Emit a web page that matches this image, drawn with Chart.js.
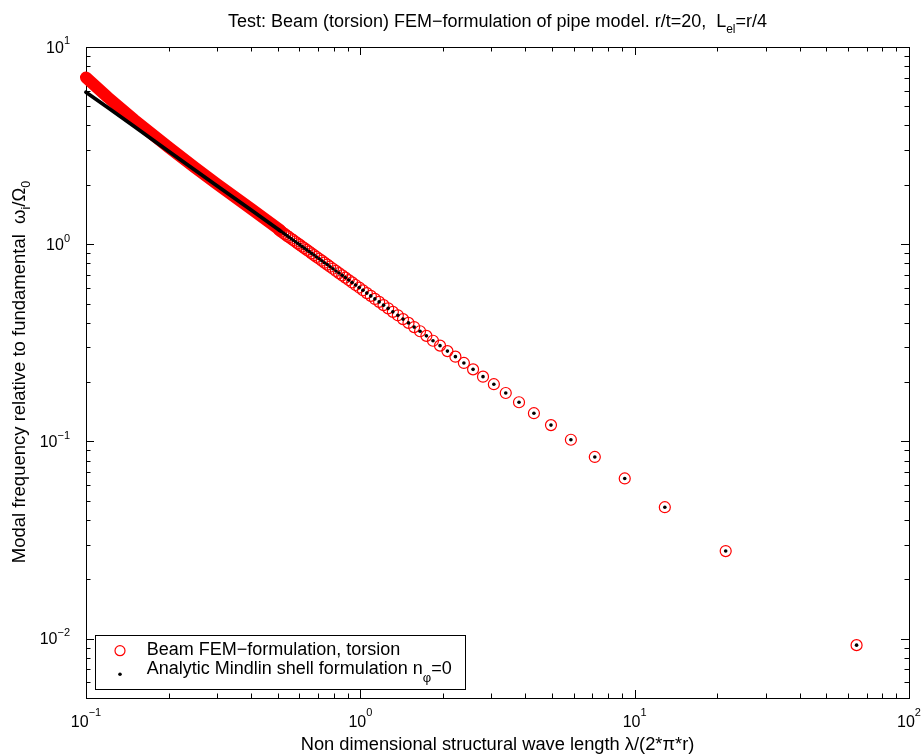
<!DOCTYPE html>
<html>
<head>
<meta charset="utf-8">
<title>Beam torsion FEM vs Mindlin shell</title>
<script src="https://cdn.jsdelivr.net/npm/chart.js@4.4.0/dist/chart.umd.min.js"></script>
<style>
    html, body { margin: 0; padding: 0; background: #fff; }
    #wrap { width: 924px; height: 754px; }
</style>
</head>
<body>
<div id="wrap"><canvas id="modes" width="924" height="754"></canvas></div>
<script>
// modes that show up as separate markers (x = lambda/(2*pi*r), y = omega_i/Omega_0)
const waveLength = [64.4, 21.47, 12.88, 9.20, 7.156, 5.855, 4.954, 4.293, 3.788, 3.389,
    3.067, 2.800, 2.576, 2.385, 2.221, 2.077, 1.952, 1.840, 1.741, 1.651,
    1.571, 1.498, 1.431, 1.370, 1.314, 1.263, 1.215, 1.171, 1.130, 1.092,
    1.056, 1.022, 0.991, 0.961, 0.933, 0.907, 0.882, 0.859, 0.836, 0.815,
    0.795, 0.776, 0.758, 0.740, 0.724, 0.708, 0.692, 0.678, 0.664, 0.651,
    0.638, 0.625, 0.613, 0.602, 0.591, 0.580, 0.570, 0.560, 0.550, 0.541,
    0.532, 0.524, 0.515, 0.507];
const modalFreq = [0.00927, 0.0278, 0.0464, 0.0649, 0.0834, 0.102, 0.121, 0.139, 0.158, 0.176,
    0.195, 0.213, 0.232, 0.250, 0.269, 0.287, 0.306, 0.324, 0.343, 0.362,
    0.380, 0.399, 0.417, 0.436, 0.454, 0.473, 0.491, 0.510, 0.528, 0.547,
    0.565, 0.584, 0.603, 0.621, 0.640, 0.658, 0.677, 0.695, 0.714, 0.732,
    0.751, 0.769, 0.788, 0.806, 0.825, 0.844, 0.862, 0.881, 0.899, 0.918,
    0.936, 0.955, 0.973, 0.992, 1.010, 1.029, 1.048, 1.066, 1.085, 1.103,
    1.122, 1.140, 1.159, 1.177];

// short wave lengths: markers overlap into a solid band, read along its centre
const bandWave        = [0.1, 0.12, 0.15, 0.2, 0.25, 0.3, 0.4, 0.51];
const beamBandFreq    = [7.0, 5.56, 4.27, 3.10, 2.44, 2.02, 1.51, 1.18];
const mindlinBandFreq = [5.90, 4.93, 3.95, 2.96, 2.37, 1.98, 1.49, 1.17];

// axis decades and the exponents printed on them
const xDecades = [0.1, 1, 10, 100];
const xTickExp = ["\u22121", "0", "1", "2"];
const yDecades = [0.01, 0.1, 1, 10];
const yTickExp = ["\u22122", "\u22121", "0", "1"];

const FONT = '"Liberation Sans", Arial, Helvetica, sans-serif';
const RED = "#ff0000";

const pts = (xs, ys) => xs.map((v, i) => ({ x: v, y: ys[i] }));

// text with sub/superscripts: parts = [[text, size, dy], ...]
function richWidth(ctx, parts) {
    let w = 0;
    parts.forEach(([t, s]) => { ctx.font = s + "px " + FONT; w += ctx.measureText(t).width; });
    return w;
}
function drawRich(ctx, parts, x, y, align) {
    const w = richWidth(ctx, parts);
    let cx = align === "center" ? x - w / 2 : align === "right" ? x - w : x;
    ctx.textAlign = "left";
    ctx.textBaseline = "alphabetic";
    parts.forEach(([t, s, dy]) => {
        ctx.font = s + "px " + FONT;
        ctx.fillText(t, cx, y + dy);
        cx += ctx.measureText(t).width;
    });
}

function minorTicks(lo, hi) {
    const out = [];
    for (let d = Math.floor(Math.log10(lo)); d <= Math.ceil(Math.log10(hi)); d++) {
        for (let m = 1; m <= 9; m++) {
            const v = m * Math.pow(10, d);
            if (v >= lo * 0.999 && v <= hi * 1.001) out.push({ v, major: m === 1 });
        }
    }
    return out;
}

const matlabFrame = {
    id: "matlabFrame",
    beforeDatasetsDraw(chart) {
        const { ctx, chartArea: a, scales: { x, y } } = chart;
        ctx.save();
        ctx.strokeStyle = "#000";
        ctx.lineWidth = 1;
        ctx.strokeRect(a.left + 0.5, a.top + 0.5, a.right - a.left, a.bottom - a.top);
        ctx.beginPath();
        minorTicks(x.min, x.max).forEach(t => {
            const px = Math.round(x.getPixelForValue(t.v)) + 0.5;
            const len = t.major ? 8 : 4.5;
            ctx.moveTo(px, a.bottom); ctx.lineTo(px, a.bottom - len);
            ctx.moveTo(px, a.top);    ctx.lineTo(px, a.top + len);
        });
        minorTicks(y.min, y.max).forEach(t => {
            const py = Math.round(y.getPixelForValue(t.v)) + 0.5;
            const len = t.major ? 8 : 4.5;
            ctx.moveTo(a.left, py);  ctx.lineTo(a.left + len, py);
            ctx.moveTo(a.right, py); ctx.lineTo(a.right - len, py);
        });
        ctx.stroke();
        ctx.restore();
    },
    afterDraw(chart) {
        const { ctx, chartArea: a, scales: { x, y } } = chart;
        const midX = (a.left + a.right) / 2;
        ctx.save();
        ctx.fillStyle = "#000";

        // tick labels
        xDecades.forEach((v, i) => {
            drawRich(ctx, [["10", 16, 0], [xTickExp[i], 11, -11]], x.getPixelForValue(v), 727, "center");
        });
        yDecades.forEach((v, i) => {
            const py = y.getPixelForValue(v);
            drawRich(ctx, [["10", 16, 0], [yTickExp[i], 11, -8.5]], 70, py + 5.8, "right");
        });

        // title and axis labels
        drawRich(ctx, [
            ["Test: Beam (torsion) FEM\u2212formulation of pipe model. r/t=20,  L", 18, 0],
            ["el", 12, 5.5], ["=r/4", 18, 0]
        ], midX, 27, "center");
        drawRich(ctx, [["Non dimensional structural wave length \u03bb/(2*\u03c0*r)", 18.3, 0]], midX, 750, "center");
        ctx.save();
        ctx.translate(25, 372);
        ctx.rotate(-Math.PI / 2);
        drawRich(ctx, [
            ["Modal frequency relative to fundamental  \u03c9", 18.5, 0], ["i", 12.5, 5],
            ["/\u03a9", 18.5, 0], ["0", 12.5, 5]
        ], 0, 0, "center");
        ctx.restore();

        // legend box
        ctx.fillStyle = "#fff";
        ctx.fillRect(95.5, 635.5, 370, 54);
        ctx.strokeStyle = "#000";
        ctx.lineWidth = 1;
        ctx.strokeRect(95.5, 635.5, 370, 54);
        ctx.beginPath();
        ctx.arc(120, 650.7, 5, 0, Math.PI * 2);
        ctx.strokeStyle = RED;
        ctx.lineWidth = 1.2;
        ctx.stroke();
        ctx.beginPath();
        ctx.arc(120, 674.3, 1.8, 0, Math.PI * 2);
        ctx.fillStyle = "#000";
        ctx.fill();
        drawRich(ctx, [["Beam FEM\u2212formulation, torsion", 18, 0]], 146.7, 655, "left");
        drawRich(ctx, [
            ["Analytic Mindlin shell formulation n", 18, 0], ["\u03c6", 13, 8], ["=0", 18, 0]
        ], 146.7, 674, "left");
        ctx.restore();
    }
};

new Chart(document.getElementById("modes"), {
    type: "scatter",
    data: {
        datasets: [
            {
                label: "Analytic Mindlin shell formulation",
                data: pts(waveLength, modalFreq),
                pointRadius: 1.8,
                pointBackgroundColor: "#000",
                pointBorderWidth: 0,
                clip: false,
                order: 1
            },
            {
                label: "Mindlin band",
                data: pts(bandWave, mindlinBandFreq),
                showLine: true,
                borderColor: "#000",
                borderWidth: 3.8,
                borderCapStyle: "round",
                borderJoinStyle: "round",
                pointRadius: 0,
                clip: false,
                order: 2
            },
            {
                label: "Beam FEM-formulation, torsion",
                data: pts(waveLength, modalFreq),
                pointRadius: 5.5,
                pointBorderColor: RED,
                pointBackgroundColor: "rgba(0,0,0,0)",
                pointBorderWidth: 1.2,
                clip: false,
                order: 3
            },
            {
                label: "Beam band",
                data: pts(bandWave, beamBandFreq),
                showLine: true,
                borderColor: RED,
                borderWidth: 12,
                borderCapStyle: "round",
                borderJoinStyle: "round",
                pointRadius: 0,
                clip: false,
                order: 4
            }
        ]
    },
    options: {
        responsive: false,
        animation: false,
        events: [],
        devicePixelRatio: 1,
        layout: { padding: { left: 86, top: 47, right: 15, bottom: 56 } },
        scales: {
            x: { type: "logarithmic", min: 0.1, max: 100, display: false },
            y: { type: "logarithmic", min: 0.005, max: 10, display: false }
        },
        plugins: {
            legend: { display: false },
            title: { display: false },
            tooltip: { enabled: false }
        }
    },
    plugins: [matlabFrame]
});
</script>
</body>
</html>
